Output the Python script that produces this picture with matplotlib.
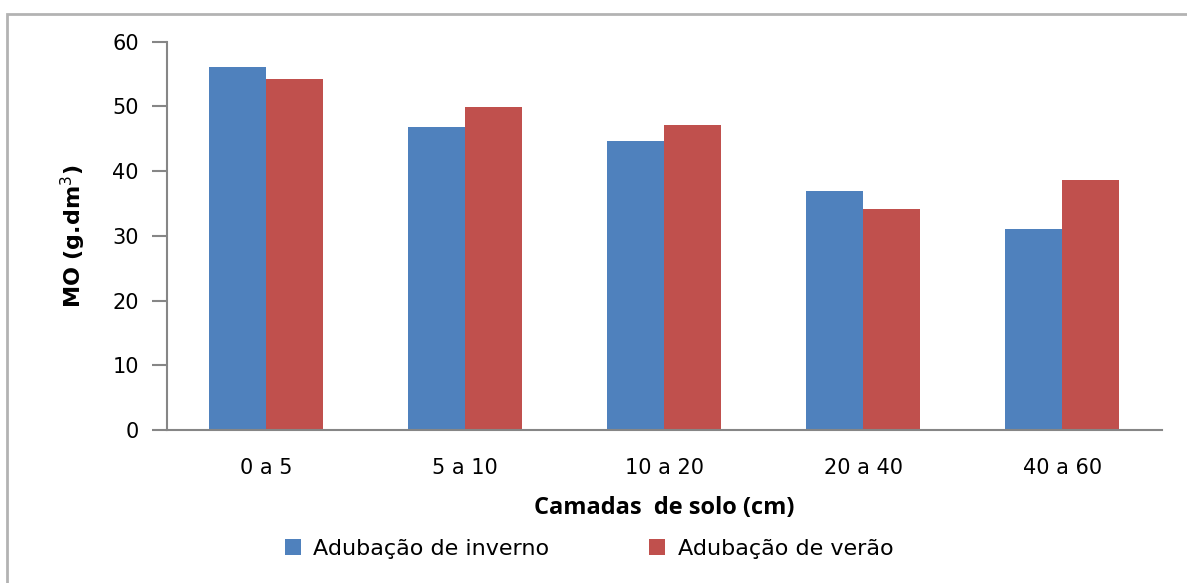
import matplotlib
matplotlib.use("Agg")
import matplotlib.pyplot as plt
import numpy as np
from matplotlib.patches import Rectangle

categories = ["0 a 5", "5 a 10", "10 a 20", "20 a 40", "40 a 60"]
inverno = [56.1, 46.8, 44.7, 36.9, 31.0]
verao = [54.2, 49.9, 47.1, 34.1, 38.7]
series_names = ["Adubação de inverno", "Adubação de verão"]
yticks = [0, 10, 20, 30, 40, 50, 60]

W, H = 1187, 583
fig = plt.figure(figsize=(W / 100, H / 100), dpi=100)
fig.patch.set_facecolor("white")

# outer chart border (Excel chart area)
fig.patches.append(Rectangle((7 / W, 0 - 0.01), 1.2, 1 - 13.5 / H + 0.01,
                             transform=fig.transFigure, fill=False,
                             edgecolor="#b3b3b3", linewidth=2.0, zorder=0))

ax = fig.add_axes([166.7 / W, 1 - 430 / H, (1161.7 - 166.7) / W, (430 - 41.7) / H])

x = np.arange(len(categories))
bw = 0.286
ax.bar(x - bw / 2, inverno, width=bw, color="#4F81BD", label=series_names[0], zorder=2)
ax.bar(x + bw / 2, verao, width=bw, color="#C0504D", label=series_names[1], zorder=2)

ax.set_xlim(-0.5, len(categories) - 0.5)
ax.set_ylim(0, 60)
ax.set_yticks(yticks)
ax.set_yticklabels([str(v) for v in yticks], fontsize=15, family="DejaVu Sans")
ax.set_xticks(x)
ax.set_xticklabels(categories, fontsize=15, family="DejaVu Sans")

for s in ["top", "right"]:
    ax.spines[s].set_visible(False)
for s in ["left", "bottom"]:
    ax.spines[s].set_color("#868686")
    ax.spines[s].set_linewidth(1.5)
ax.tick_params(axis="y", length=11, width=1.5, color="#868686", pad=9)
ax.tick_params(axis="x", length=0, pad=20)

ax.set_ylabel("MO (g.dm$^3$)", fontsize=16, fontweight="bold", family="DejaVu Sans")
ax.yaxis.set_label_coords((88 - 166.7) / 995, 0.5, transform=ax.transAxes)
ax.set_xlabel("Camadas  de solo (cm)", fontsize=17, fontweight="bold", family="Open Sans",
              labelpad=13)

fig.legend(loc="center left", bbox_to_anchor=(285 / W, 1 - 549 / H), ncol=2, frameon=False,
           borderpad=0, borderaxespad=0,
           prop={"family": "DejaVu Sans", "size": 16}, handlelength=0.72, handleheight=0.72,
           handletextpad=0.55, columnspacing=4.5)

fig.savefig("out.png", dpi=100)
